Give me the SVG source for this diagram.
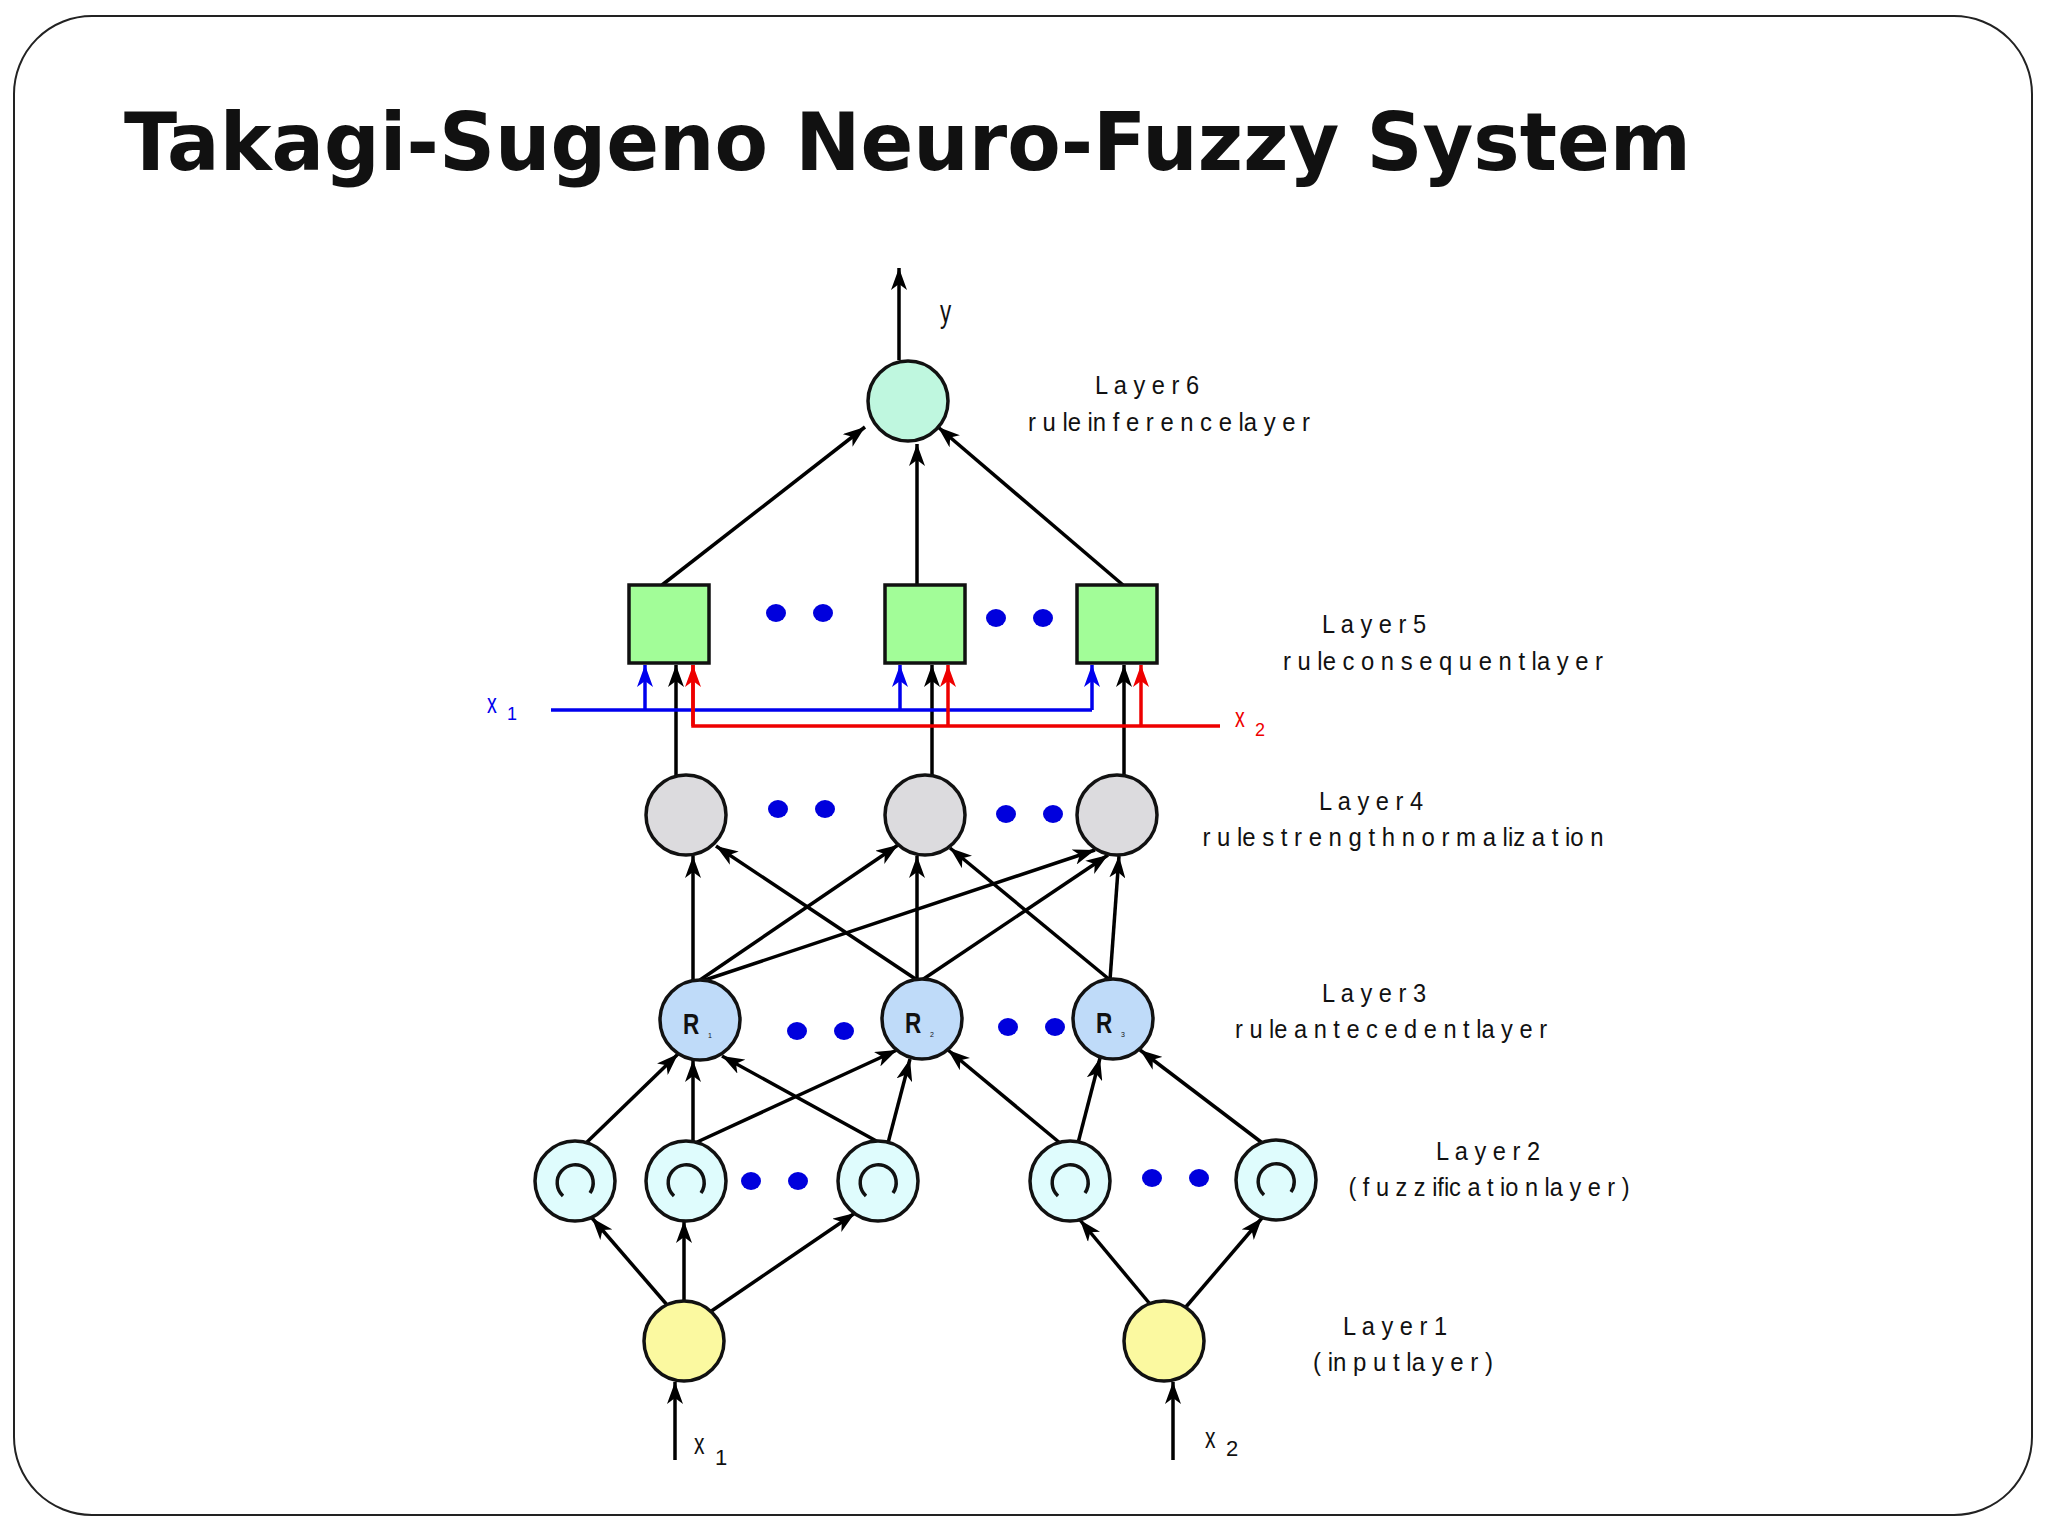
<svg xmlns="http://www.w3.org/2000/svg" width="2048" height="1536" viewBox="0 0 2048 1536">
<style>
.lbl{font-family:"Liberation Sans",Arial,sans-serif;font-size:25px;fill:#111;text-anchor:middle}
.e{stroke:#000;stroke-width:3.5;fill:none;marker-end:url(#ak)}
.dot{fill:#0000dd}
.nd{stroke:#111;stroke-width:3.5}
.ic{fill:none;stroke:#111;stroke-width:3.5}
</style>
<defs>
<marker id="ak" markerUnits="userSpaceOnUse" markerWidth="24" markerHeight="16" refX="22" refY="8" orient="auto"><path d="M0,0 L22,8 L0,16 L6,8 z" fill="#000"/></marker>
<marker id="ab" markerUnits="userSpaceOnUse" markerWidth="24" markerHeight="16" refX="22" refY="8" orient="auto"><path d="M0,0 L22,8 L0,16 L6,8 z" fill="#0000ee"/></marker>
<marker id="ar" markerUnits="userSpaceOnUse" markerWidth="24" markerHeight="16" refX="22" refY="8" orient="auto"><path d="M0,0 L22,8 L0,16 L6,8 z" fill="#ee0000"/></marker>
</defs>
<rect x="14" y="16" width="2018" height="1499" rx="78" fill="#fff" stroke="#222" stroke-width="2"/>
<text x="124" y="170" font-family="'DejaVu Sans',Verdana,sans-serif" font-weight="bold" font-size="80" textLength="1567" lengthAdjust="spacingAndGlyphs" fill="#111">Takagi-Sugeno Neuro-Fuzzy System</text>

<g id="connectors">
<line class="e" x1="899" y1="360" x2="899" y2="268"/>
<line class="e" x1="662" y1="585" x2="865" y2="427"/>
<line class="e" x1="917" y1="585" x2="917" y2="444"/>
<line class="e" x1="1123" y1="585" x2="938" y2="427"/>
<line class="e" x1="676" y1="776" x2="676" y2="665"/>
<line class="e" x1="932" y1="776" x2="932" y2="665"/>
<line class="e" x1="1124" y1="776" x2="1124" y2="665"/>
<polyline points="551,710 1092,710" stroke="#0000ee" stroke-width="3.5" fill="none"/>
<line x1="645" y1="710" x2="645" y2="665" stroke="#0000ee" stroke-width="3.5" marker-end="url(#ab)"/>
<line x1="900" y1="710" x2="900" y2="665" stroke="#0000ee" stroke-width="3.5" marker-end="url(#ab)"/>
<line x1="1092" y1="710" x2="1092" y2="665" stroke="#0000ee" stroke-width="3.5" marker-end="url(#ab)"/>
<polyline points="693,665 693,726 1220,726" stroke="#ee0000" stroke-width="3.5" fill="none"/>
<line x1="693" y1="726" x2="693" y2="665" stroke="#ee0000" stroke-width="3.5" marker-end="url(#ar)"/>
<line x1="948" y1="726" x2="948" y2="665" stroke="#ee0000" stroke-width="3.5" marker-end="url(#ar)"/>
<line x1="1141" y1="726" x2="1141" y2="665" stroke="#ee0000" stroke-width="3.5" marker-end="url(#ar)"/>
<line class="e" x1="693" y1="980" x2="693" y2="856"/>
<line class="e" x1="700" y1="980" x2="898" y2="845"/>
<line class="e" x1="705" y1="980" x2="1095" y2="850"/>
<line class="e" x1="917" y1="980" x2="716" y2="846"/>
<line class="e" x1="917" y1="980" x2="917" y2="856"/>
<line class="e" x1="922" y1="980" x2="1108" y2="855"/>
<line class="e" x1="1110" y1="980" x2="950" y2="848"/>
<line class="e" x1="1110" y1="980" x2="1119" y2="856"/>
<line class="e" x1="585" y1="1144" x2="678" y2="1054"/>
<line class="e" x1="693" y1="1142" x2="693" y2="1060"/>
<line class="e" x1="695" y1="1143" x2="897" y2="1050"/>
<line class="e" x1="880" y1="1143" x2="722" y2="1056"/>
<line class="e" x1="888" y1="1143" x2="910" y2="1059"/>
<line class="e" x1="1060" y1="1143" x2="948" y2="1050"/>
<line class="e" x1="1078" y1="1143" x2="1100" y2="1058"/>
<line class="e" x1="1265" y1="1145" x2="1140" y2="1050"/>
<line class="e" x1="668" y1="1306" x2="592" y2="1218"/>
<line class="e" x1="684" y1="1301" x2="684" y2="1221"/>
<line class="e" x1="710" y1="1312" x2="855" y2="1213"/>
<line class="e" x1="1150" y1="1304" x2="1080" y2="1220"/>
<line class="e" x1="1185" y1="1308" x2="1262" y2="1218"/>
<line class="e" x1="675" y1="1460" x2="675" y2="1382"/>
<line class="e" x1="1173" y1="1460" x2="1173" y2="1382"/>
</g>

<g id="L6"><circle class="nd" cx="908" cy="401" r="40" fill="#bff7df"/></g>
<g id="L5a"><rect class="nd" x="629" y="585" width="80" height="78" fill="#a2fd98"/></g>
<g id="L5b"><rect class="nd" x="885" y="585" width="80" height="78" fill="#a2fd98"/></g>
<g id="L5c"><rect class="nd" x="1077" y="585" width="80" height="78" fill="#a2fd98"/></g>
<g id="L4a"><circle class="nd" cx="686" cy="815" r="40" fill="#dcdbde"/></g>
<g id="L4b"><circle class="nd" cx="925" cy="815" r="40" fill="#dcdbde"/></g>
<g id="L4c"><circle class="nd" cx="1117" cy="815" r="40" fill="#dcdbde"/></g>
<g id="R1"><circle class="nd" cx="700" cy="1020" r="40" fill="#bfdbf9"/><text x="683" y="1034" font-family="'Liberation Sans',sans-serif" font-weight="bold" font-size="30" fill="#111" transform="translate(683 1034) scale(0.75 1) translate(-683 -1034)">R</text><text x="708" y="1038" font-family="'Liberation Sans',sans-serif" font-size="7" fill="#111">1</text></g>
<g id="R2"><circle class="nd" cx="922" cy="1019" r="40" fill="#bfdbf9"/><text x="905" y="1033" font-family="'Liberation Sans',sans-serif" font-weight="bold" font-size="30" fill="#111" transform="translate(905 1033) scale(0.75 1) translate(-905 -1033)">R</text><text x="930" y="1037" font-family="'Liberation Sans',sans-serif" font-size="7" fill="#111">2</text></g>
<g id="R3"><circle class="nd" cx="1113" cy="1019" r="40" fill="#bfdbf9"/><text x="1096" y="1033" font-family="'Liberation Sans',sans-serif" font-weight="bold" font-size="30" fill="#111" transform="translate(1096 1033) scale(0.75 1) translate(-1096 -1033)">R</text><text x="1121" y="1037" font-family="'Liberation Sans',sans-serif" font-size="7" fill="#111">3</text></g>
<g id="L2a"><circle class="nd" cx="575" cy="1181" r="40" fill="#dffcfd"/><path class="ic" d="M563,1196 A18,18 0 1 1 590,1193"/></g>
<g id="L2b"><circle class="nd" cx="686" cy="1181" r="40" fill="#dffcfd"/><path class="ic" d="M674,1196 A18,18 0 1 1 701,1193"/></g>
<g id="L2c"><circle class="nd" cx="878" cy="1181" r="40" fill="#dffcfd"/><path class="ic" d="M866,1196 A18,18 0 1 1 893,1193"/></g>
<g id="L2d"><circle class="nd" cx="1070" cy="1181" r="40" fill="#dffcfd"/><path class="ic" d="M1058,1196 A18,18 0 1 1 1085,1193"/></g>
<g id="L2e"><circle class="nd" cx="1276" cy="1180" r="40" fill="#dffcfd"/><path class="ic" d="M1264,1195 A18,18 0 1 1 1291,1192"/></g>
<g id="L1a"><circle class="nd" cx="684" cy="1341" r="40" fill="#fbf9a0"/></g>
<g id="L1b"><circle class="nd" cx="1164" cy="1341" r="40" fill="#fbf9a0"/></g>

<g id="dots">
<ellipse class="dot" cx="776" cy="613" rx="10" ry="9"/><ellipse class="dot" cx="823" cy="613" rx="10" ry="9"/>
<ellipse class="dot" cx="996" cy="618" rx="10" ry="9"/><ellipse class="dot" cx="1043" cy="618" rx="10" ry="9"/>
<ellipse class="dot" cx="778" cy="809" rx="10" ry="9"/><ellipse class="dot" cx="825" cy="809" rx="10" ry="9"/>
<ellipse class="dot" cx="1006" cy="814" rx="10" ry="9"/><ellipse class="dot" cx="1053" cy="814" rx="10" ry="9"/>
<ellipse class="dot" cx="797" cy="1031" rx="10" ry="9"/><ellipse class="dot" cx="844" cy="1031" rx="10" ry="9"/>
<ellipse class="dot" cx="1008" cy="1027" rx="10" ry="9"/><ellipse class="dot" cx="1055" cy="1027" rx="10" ry="9"/>
<ellipse class="dot" cx="751" cy="1181" rx="10" ry="9"/><ellipse class="dot" cx="798" cy="1181" rx="10" ry="9"/>
<ellipse class="dot" cx="1152" cy="1178" rx="10" ry="9"/><ellipse class="dot" cx="1199" cy="1178" rx="10" ry="9"/>
</g>

<g id="labels">
<text x="940" y="322" font-family="'Liberation Sans',sans-serif" font-size="32" fill="#111" transform="translate(940 322) scale(0.7 1) translate(-940 -322)">y</text>
<text x="487" y="713" font-family="'Liberation Sans',sans-serif" font-size="28" fill="#0000ee" transform="translate(487 713) scale(0.7 1) translate(-487 -713)">x</text>
<text x="507" y="720" font-family="'Liberation Sans',sans-serif" font-size="18" fill="#0000ee">1</text>
<text x="1235" y="727" font-family="'Liberation Sans',sans-serif" font-size="28" fill="#ee0000" transform="translate(1235 727) scale(0.7 1) translate(-1235 -727)">x</text>
<text x="1255" y="736" font-family="'Liberation Sans',sans-serif" font-size="18" fill="#ee0000">2</text>
<text x="694" y="1454" font-family="'Liberation Sans',sans-serif" font-size="30" fill="#111" transform="translate(694 1454) scale(0.7 1) translate(-694 -1454)">x</text>
<text x="715" y="1465" font-family="'Liberation Sans',sans-serif" font-size="22" fill="#111">1</text>
<text x="1205" y="1448" font-family="'Liberation Sans',sans-serif" font-size="30" fill="#111" transform="translate(1205 1448) scale(0.7 1) translate(-1205 -1448)">x</text>
<text x="1226" y="1456" font-family="'Liberation Sans',sans-serif" font-size="22" fill="#111">2</text>
<text class="lbl" x="1147" y="394" textLength="104" lengthAdjust="spacingAndGlyphs">L a y e r  6</text>
<text class="lbl" x="1169" y="431" textLength="282" lengthAdjust="spacingAndGlyphs">r u le  in f e r e n c e  la y e r</text>
<text class="lbl" x="1374" y="633" textLength="104" lengthAdjust="spacingAndGlyphs">L a y e r  5</text>
<text class="lbl" x="1443" y="670" textLength="320" lengthAdjust="spacingAndGlyphs">r u le  c o n s e q u e n t  la y e r</text>
<text class="lbl" x="1371" y="810" textLength="104" lengthAdjust="spacingAndGlyphs">L a y e r  4</text>
<text class="lbl" x="1403" y="846" textLength="401" lengthAdjust="spacingAndGlyphs">r u le  s t r e n g t h  n o r m a liz a t io n</text>
<text class="lbl" x="1374" y="1002" textLength="104" lengthAdjust="spacingAndGlyphs">L a y e r  3</text>
<text class="lbl" x="1391" y="1038" textLength="312" lengthAdjust="spacingAndGlyphs">r u le  a n t e c e d e n t  la y e r</text>
<text class="lbl" x="1488" y="1160" textLength="104" lengthAdjust="spacingAndGlyphs">L a y e r  2</text>
<text class="lbl" x="1489" y="1196" textLength="281" lengthAdjust="spacingAndGlyphs">( f u z z ific a t io n  la y e r )</text>
<text class="lbl" x="1395" y="1335" textLength="104" lengthAdjust="spacingAndGlyphs">L a y e r  1</text>
<text class="lbl" x="1403" y="1371" textLength="180" lengthAdjust="spacingAndGlyphs">( in p u t  la y e r )</text>
</g>
</svg>
